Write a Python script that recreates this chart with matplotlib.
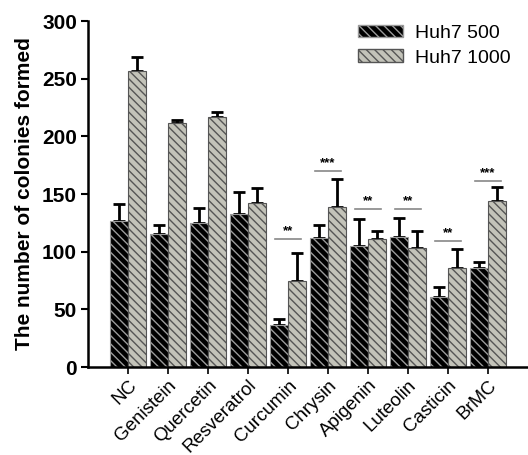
import numpy as np
import matplotlib.pyplot as plt
from matplotlib.patches import Patch

plt.rcParams['font.family'] = ['Liberation Sans', 'DejaVu Sans']
plt.rcParams['hatch.linewidth'] = 1.0

compounds = ['NC', 'Genistein', 'Quercetin', 'Resveratrol', 'Curcumin',
             'Chrysin', 'Apigenin', 'Luteolin', 'Casticin', 'BrMC']
huh7_500 = [127, 115, 125, 133, 36, 112, 105, 113, 61, 86]
huh7_500_err = [14, 8, 13, 19, 6, 11, 23, 16, 8, 5]
huh7_1000 = [257, 212, 217, 142, 75, 139, 111, 103, 86, 144]
huh7_1000_err = [12, 2, 4, 13, 24, 24, 7, 15, 16, 12]

# significance marks: (group index, line height, label)
sig_marks = [(4, 111, '**'), (5, 170, '***'), (6, 137, '**'),
             (7, 137, '**'), (8, 109, '**'), (9, 161, '***')]

x = np.arange(len(compounds))
w = 0.45
hatch = '\\\\\\\\'

fig = plt.figure(figsize=(5.28, 4.55), dpi=100)
ax = fig.add_axes([0.1667, 0.1934, 0.8333, 0.7604])

ax.bar(x - w / 2, huh7_500, w, color='black', edgecolor='#9a9a9a',
       hatch=hatch, linewidth=0.8, zorder=2)
ax.bar(x + w / 2, huh7_1000, w, color='#c3c3b9', edgecolor='#555555',
       hatch=hatch, linewidth=0.8, zorder=2)

zeros = np.zeros(len(x))
ax.errorbar(x - w / 2, huh7_500, yerr=[zeros, huh7_500_err], fmt='none',
            ecolor='black', elinewidth=2, capsize=4.5, capthick=2, zorder=1)
ax.errorbar(x + w / 2, huh7_1000, yerr=[zeros, huh7_1000_err], fmt='none',
            ecolor='black', elinewidth=2, capsize=4.5, capthick=2, zorder=1)

for i, yy, lab in sig_marks:
    ax.plot([i - 0.33, i + 0.33], [yy, yy], color='#888888', lw=1.2)
    ax.text(i, yy + 1.5, lab, ha='center', va='bottom', fontsize=9.5,
            fontweight='bold')

ax.set_xlim(-1, 10)
ax.set_ylim(0, 300)
ax.set_yticks(range(0, 301, 50))
ax.set_xticks(x)
ax.set_xticklabels(compounds, rotation=45, ha='right', rotation_mode='anchor',
                   fontsize=13.5)
for t in ax.get_yticklabels():
    t.set_fontweight('bold')
    t.set_fontsize(15)
ax.tick_params(axis='y', length=5, width=1.5, direction='out', pad=3)
ax.tick_params(axis='x', length=5, width=1.2, direction='out', pad=2)
ax.spines['top'].set_visible(False)
ax.spines['right'].set_visible(False)
ax.spines['left'].set_linewidth(1.8)
ax.spines['bottom'].set_linewidth(1.8)
ax.set_ylabel('The number of colonies formed', fontsize=15, fontweight='bold',
              labelpad=6)

handles = [Patch(facecolor='black', edgecolor='#9a9a9a', hatch=hatch),
           Patch(facecolor='#c3c3b9', edgecolor='#555555', hatch=hatch)]
ax.legend(handles, ['Huh7 500', 'Huh7 1000'], loc='upper right',
          bbox_to_anchor=(1.0, 1.04), frameon=False, fontsize=14,
          handlelength=2.3, handleheight=0.6, handletextpad=0.6,
          labelspacing=0.4)

fig.savefig('out.png', dpi=100)
